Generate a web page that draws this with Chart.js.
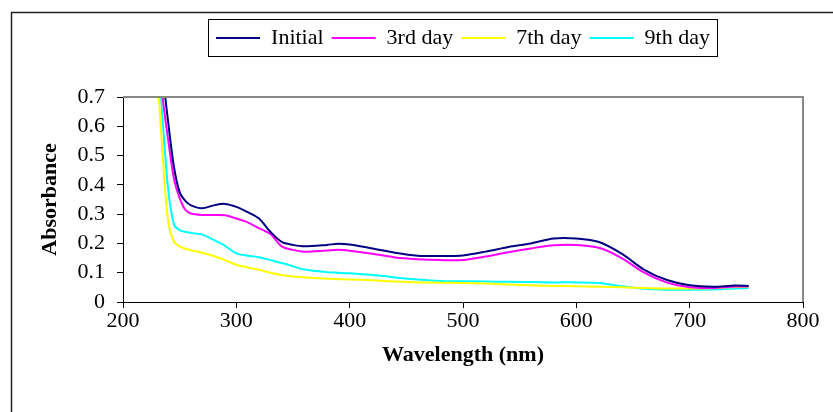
<!DOCTYPE html>
<html>
<head>
<meta charset="utf-8">
<script src="https://cdn.jsdelivr.net/npm/chart.js@4"></script>
<style>
  body { margin: 0; background: #fff; }
  #wrap { width: 833px; height: 412px; }
</style>
</head>
<body>
<div id="wrap"><canvas id="myChart" width="833" height="412"></canvas></div>
<script>
// Absorbance spectra

const wavelength = [230, 235, 240, 245, 250, 255, 260, 270, 280, 290, 300, 310, 320, 330, 340, 350, 360, 380, 390, 400,
                    420, 440, 460, 480, 500, 520, 540, 560, 580, 600, 620, 640, 660, 680, 700, 720, 740, 752];

const initial = [1.0, 0.78, 0.61, 0.46, 0.375, 0.345, 0.33, 0.32, 0.33, 0.335, 0.325, 0.307, 0.285, 0.24, 0.205, 0.195, 0.19, 0.195, 0.199, 0.196,
                 0.183, 0.168, 0.158, 0.157, 0.159, 0.172, 0.188, 0.2, 0.217, 0.217, 0.205, 0.165, 0.11, 0.075, 0.057, 0.052, 0.056, 0.055];

const day3 = [0.95, 0.7, 0.55, 0.42, 0.355, 0.315, 0.302, 0.297, 0.297, 0.296, 0.285, 0.272, 0.252, 0.232, 0.19, 0.178, 0.172, 0.176, 0.178, 0.175,
              0.165, 0.152, 0.146, 0.143, 0.143, 0.155, 0.17, 0.183, 0.194, 0.195, 0.185, 0.15, 0.1, 0.066, 0.05, 0.048, 0.053, 0.053];

const day7 = [0.8, 0.5, 0.27, 0.205, 0.19, 0.182, 0.177, 0.168, 0.157, 0.143, 0.127, 0.118, 0.11, 0.1, 0.092, 0.087, 0.084, 0.079, 0.078, 0.077,
              0.074, 0.07, 0.067, 0.066, 0.065, 0.063, 0.06, 0.057, 0.055, 0.054, 0.052, 0.05, 0.048, 0.046, 0.046, 0.047, 0.051, 0.052];

const day9 = [0.9, 0.62, 0.38, 0.265, 0.245, 0.24, 0.236, 0.23, 0.212, 0.192, 0.166, 0.158, 0.153, 0.143, 0.133, 0.122, 0.111, 0.102, 0.1, 0.098,
              0.092, 0.084, 0.077, 0.072, 0.071, 0.07, 0.069, 0.068, 0.067, 0.067, 0.065, 0.054, 0.045, 0.042, 0.042, 0.043, 0.046, 0.048];

const seriesNames = ['Initial', '3rd day', '7th day', '9th day'];
const seriesColors = ['#000080', '#FF00FF', '#FFFF00', '#00FFFF'];

const xTicks = [200, 300, 400, 500, 600, 700, 800];
const yTicks = [0, 0.1, 0.2, 0.3, 0.4, 0.5, 0.6, 0.7];

Chart.defaults.font.family = "'Liberation Serif', 'Times New Roman', serif";
Chart.defaults.color = '#000';

function toPoints(values) {
    return values.map((v, i) => ({ x: wavelength[i], y: v }));
}

// outer frame, legend box and the grey top/right edge of the plot area
const framePlugin = {
    id: 'frames',
    afterDraw(chart) {
        const ctx = chart.ctx;
        const a = chart.chartArea;
        ctx.save();
        ctx.strokeStyle = '#222';
        ctx.lineWidth = 1.5;
        ctx.beginPath();
        ctx.moveTo(11.5, 420);
        ctx.lineTo(11.5, 12.5);
        ctx.lineTo(840, 12.5);
        ctx.stroke();

        ctx.strokeStyle = '#888';
        ctx.lineWidth = 2;
        ctx.beginPath();
        ctx.moveTo(a.left, a.top);
        ctx.lineTo(a.right, a.top);
        ctx.lineTo(a.right, a.bottom);
        ctx.stroke();

        const boxes = chart.legend.legendHitBoxes;
        if (boxes && boxes.length) {
            const first = boxes[0];
            const last = boxes[boxes.length - 1];
            const cy = first.top + first.height / 2;
            ctx.strokeStyle = '#000';
            ctx.lineWidth = 1;
            ctx.strokeRect(Math.round(first.left - 8) + 0.5, Math.round(cy - 19) + 0.5,
                           Math.round(last.left + last.width + 7 - (first.left - 8)), 37);
        }
        ctx.restore();
    }
};

const datasets = [initial, day3, day7, day9].map((vals, i) => ({
    label: seriesNames[i],
    data: toPoints(vals),
    borderColor: seriesColors[i],
    backgroundColor: seriesColors[i],
    borderWidth: 2,
    pointRadius: 0,
    tension: 0.3,
    fill: false
}));

const myChart = new Chart(document.getElementById('myChart'), {
    type: 'line',
    data: { datasets: datasets },
    plugins: [framePlugin],
    options: {
        responsive: false,
        animation: false,
        layout: { padding: { top: 19, left: 0, right: 30, bottom: 0 } },
        scales: {
            x: {
                type: 'linear',
                min: 200,
                max: 800,
                afterBuildTicks: s => { s.ticks = xTicks.map(v => ({ value: v })); },
                afterFit: s => { s.height = 110; },
                grid: { drawOnChartArea: false, drawTicks: true, tickLength: 6, tickColor: '#000' },
                border: { color: '#000', width: 1 },
                ticks: { font: { size: 22 }, padding: 0, maxRotation: 0, autoSkip: false },
                title: {
                    display: true,
                    text: 'Wavelength (nm)',
                    font: { size: 22, weight: 'bold' },
                    padding: { top: 0, bottom: 43 }
                }
            },
            y: {
                min: 0,
                max: 0.7,
                afterBuildTicks: s => { s.ticks = yTicks.map(v => ({ value: v })); },
                afterFit: s => { s.width = 123; },
                grid: { drawOnChartArea: false, drawTicks: true, tickLength: 6, tickColor: '#000' },
                border: { color: '#000', width: 1 },
                ticks: { font: { size: 22 }, padding: 12, autoSkip: false },
                title: {
                    display: true,
                    text: 'Absorbance',
                    font: { size: 22, weight: 'bold' },
                    padding: { top: 37, bottom: 0 }
                }
            }
        },
        plugins: {
            legend: {
                position: 'top',
                fullSize: false,
                weight: 3000,
                labels: {
                    boxWidth: 44,
                    boxHeight: 2,
                    padding: 8,
                    font: { size: 22 },
                    generateLabels: chart => chart.data.datasets.map((ds, i) => ({
                        text: ds.label,
                        fillStyle: ds.borderColor,
                        strokeStyle: ds.borderColor,
                        lineWidth: 0,
                        datasetIndex: i
                    }))
                }
            },
            // empty title only keeps the gap between legend and plot
            title: {
                display: true,
                text: '',
                font: { size: 18, lineHeight: 1 },
                padding: { top: 10, bottom: 10 }
            },
            tooltip: { enabled: false }
        }
    }
});
</script>
</body>
</html>
